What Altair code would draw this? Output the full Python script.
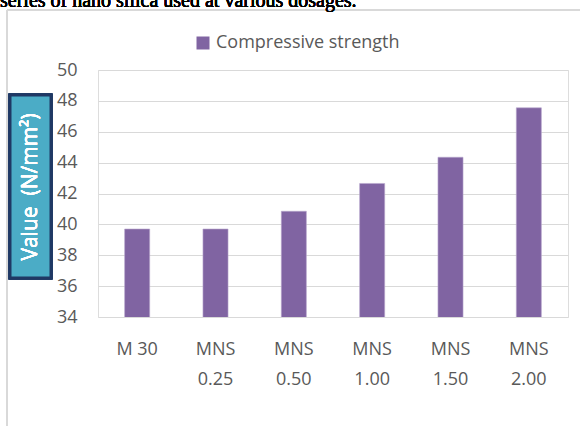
import altair as alt
import pandas as pd

categories = ["M 30", "MNS\n0.25", "MNS\n0.50", "MNS\n1.00", "MNS\n1.50", "MNS\n2.00"]
values = [39.7, 39.7, 40.85, 42.65, 44.35, 47.55]
series_name = "Compressive strength"
y_ticks = [34, 36, 38, 40, 42, 44, 46, 48, 50]

df = pd.DataFrame({"cat": categories, "val": values, "series": [series_name] * len(categories)})

FONT = "Open Sans"
GRAY = "#595959"
W, H = 470, 247

bars = alt.Chart(df).mark_bar(stroke="#b9a8cf", strokeWidth=0.6, clip=True).encode(
    x=alt.X("cat:N", sort=categories,
            scale=alt.Scale(paddingInner=0.68, paddingOuter=0.34),
            axis=alt.Axis(title=None, labelAngle=0, ticks=False, domain=False, grid=False,
                          labelExpr="split(datum.label, '\\n')",
                          labelFont=FONT, labelFontSize=18, labelColor=GRAY,
                          labelLineHeight=30, labelPadding=23, labelBaseline="top")),
    y=alt.Y("val:Q", scale=alt.Scale(domain=[34, 50], nice=False, zero=False),
            axis=alt.Axis(title=None, values=y_ticks, ticks=False, domain=False,
                          grid=True, gridColor="#d9d9d9", gridWidth=1.2,
                          labelFont=FONT, labelFontSize=18, labelColor=GRAY,
                          labelPadding=21)),
    color=alt.Color("series:N", scale=alt.Scale(domain=[series_name], range=["#8064a2"]),
                    legend=alt.Legend(title=None, orient="none", legendX=96, legendY=-36,
                                      symbolType="square", symbolSize=169, symbolStrokeWidth=0,
                                      labelFont=FONT, labelFontSize=18, labelColor=GRAY,
                                      labelLimit=0, direction="horizontal")),
)

box = alt.Chart(df).mark_rect(fill="#4bacc6", stroke="#1f3864", strokeWidth=3).encode(
    x=alt.value(-88), x2=alt.value(-47), y=alt.value(25), y2=alt.value(208)
)
box_text = alt.Chart(df).mark_text(text="Value\u00a0\u00a0(N/mm²)", angle=270, color="white",
                                   font=FONT, fontSize=21, fontWeight="normal").encode(
    x=alt.value(-67), y=alt.value(117)
)
frame_left = alt.Chart(df).mark_rule(color="#d9d9d9", strokeWidth=2).encode(
    x=alt.value(-91), y=alt.value(-60), y2=alt.value(360)
)
frame_top = alt.Chart(df).mark_rule(color="#d9d9d9", strokeWidth=2).encode(
    x=alt.value(-91), x2=alt.value(490), y=alt.value(-60)
)
header = alt.Chart(df).mark_text(text="series of nano silica used at various dosages.",
                                 align="left", baseline="alphabetic", font="Liberation Serif",
                                 fontSize=20, fontWeight="normal", color="black").encode(
    x=alt.value(-98), y=alt.value(-63)
)

chart = alt.layer(frame_left, frame_top, header, bars, box, box_text).properties(
    width=W, height=H,
    padding={"left": 98, "top": 70, "right": 12, "bottom": 109},
    autosize=alt.AutoSizeParams(type="none"),
).configure_view(stroke=None).configure(background="white")

chart.save("out.html", embed_options={"renderer": "svg", "actions": False})
